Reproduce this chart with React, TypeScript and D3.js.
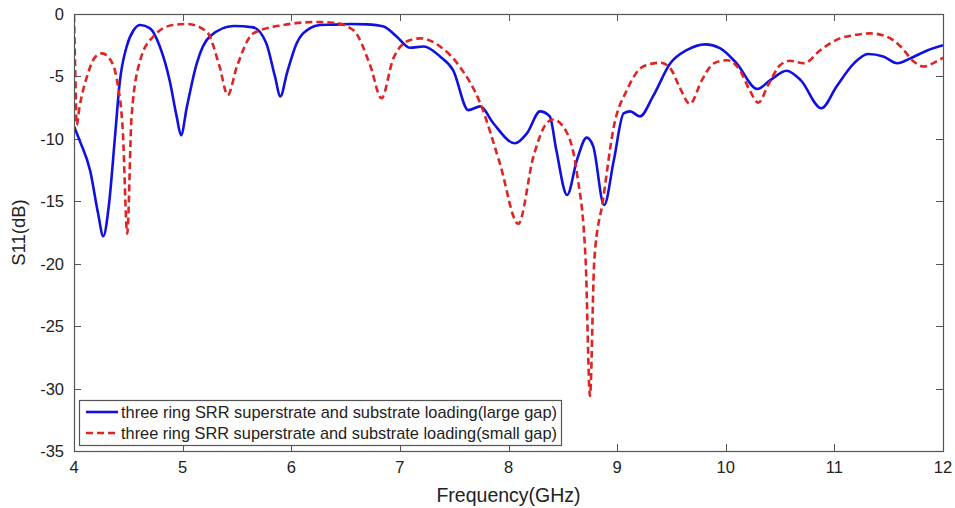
import React, { useEffect, useRef } from "react";
import * as d3 from "d3";

const xTicks = [4, 5, 6, 7, 8, 9, 10, 11, 12];
const yTicks = [0, -5, -10, -15, -20, -25, -30, -35];

const largeGapF = [4.0, 4.055, 4.15, 4.22, 4.27, 4.32, 4.38, 4.42, 4.485, 4.55, 4.61, 4.7, 4.79, 4.88, 4.945, 4.985, 5.04, 5.13, 5.25, 5.47, 5.65, 5.77, 5.85, 5.9, 5.96, 6.05, 6.17, 6.265, 6.385, 6.55, 6.695, 6.85, 6.97, 7.09, 7.22, 7.37, 7.49, 7.63, 7.74, 7.86, 8.06, 8.17, 8.29, 8.38, 8.44, 8.54, 8.63, 8.72, 8.78, 8.88, 8.97, 9.06, 9.12, 9.21, 9.33, 9.49, 9.64, 9.81, 9.95, 10.1, 10.29, 10.41, 10.56, 10.69, 10.88, 11.02, 11.18, 11.31, 11.45, 11.58, 11.7, 11.86, 12.0];
const largeGapS11 = [-9.0, -10.2, -12.6, -15.9, -17.8, -15.4, -9.55, -5.55, -2.6, -1.28, -0.88, -1.15, -2.6, -5.3, -8.2, -9.7, -7.4, -3.95, -1.8, -0.96, -1.07, -2.35, -5.0, -6.6, -4.75, -2.35, -1.15, -0.88, -0.85, -0.8, -0.83, -1.0, -1.8, -2.7, -2.6, -3.4, -4.5, -7.7, -7.4, -8.75, -10.35, -9.55, -7.8, -8.2, -10.9, -14.5, -11.7, -9.9, -10.6, -15.3, -11.7, -7.95, -7.8, -8.2, -6.6, -3.95, -2.9, -2.43, -2.75, -3.95, -6.0, -5.3, -4.55, -5.3, -7.55, -5.8, -3.95, -3.2, -3.4, -3.95, -3.55, -2.9, -2.5];

const smallGapF = [4.0, 4.01, 4.025, 4.05, 4.12, 4.2, 4.26, 4.33, 4.4, 4.45, 4.49, 4.53, 4.61, 4.73, 4.91, 5.04, 5.22, 5.34, 5.415, 5.5, 5.65, 5.93, 6.235, 6.39, 6.57, 6.73, 6.83, 6.94, 7.09, 7.19, 7.37, 7.55, 7.74, 7.92, 8.09, 8.23, 8.35, 8.41, 8.54, 8.63, 8.71, 8.75, 8.79, 8.87, 8.97, 9.09, 9.24, 9.4, 9.49, 9.58, 9.67, 9.78, 9.89, 10.01, 10.13, 10.22, 10.3, 10.39, 10.5, 10.59, 10.72, 10.87, 11.05, 11.18, 11.33, 11.48, 11.61, 11.73, 11.82, 11.94, 12.0];
const smallGapS11 = [-0.1, -4.0, -8.9, -7.5, -5.0, -3.4, -3.15, -3.6, -5.5, -9.5, -17.6, -8.2, -3.7, -1.8, -0.88, -0.8, -1.4, -4.2, -6.5, -4.2, -1.55, -0.88, -0.64, -0.7, -1.28, -4.2, -6.75, -3.55, -2.1, -1.95, -2.6, -4.2, -7.15, -11.95, -16.8, -11.4, -8.75, -8.45, -9.55, -12.75, -19.7, -30.6, -19.7, -14.9, -9.0, -6.1, -4.2, -3.9, -4.35, -5.95, -7.2, -5.3, -3.95, -3.7, -4.5, -6.1, -7.1, -5.7, -4.1, -3.75, -3.95, -2.9, -1.95, -1.7, -1.55, -1.8, -2.6, -3.8, -4.2, -3.8, -3.5];

const legendLabels = [
  "three ring SRR superstrate and substrate loading(large gap)",
  "three ring SRR superstrate and substrate loading(small gap)",
];

const W = 955;
const H = 508;
const M = { left: 74, right: 943, top: 14, bottom: 451 };
const FONT = "'Liberation Sans', Arial, sans-serif";

export default function App() {
  const ref = useRef<SVGSVGElement>(null);

  useEffect(() => {
    const svg = d3.select(ref.current);
    svg.selectAll("*").remove();

    const x = d3.scaleLinear().domain([4, 12]).range([M.left, M.right]);
    const y = d3.scaleLinear().domain([-35, 0]).range([M.bottom, M.top]);

    svg.append("rect").attr("width", W).attr("height", H).attr("fill", "#fff");

    const frameColor = "#555";
    const tickLen = 7;

    const clipId = "plotclip";
    svg.append("clipPath").attr("id", clipId).append("rect")
      .attr("x", M.left).attr("y", M.top - 2)
      .attr("width", M.right - M.left).attr("height", M.bottom - M.top + 2);

    // ticks
    const tg = svg.append("g").attr("stroke", frameColor).attr("stroke-width", 1);
    xTicks.forEach((t) => {
      const px = Math.round(x(t)) + 0.5;
      tg.append("line").attr("x1", px).attr("x2", px).attr("y1", M.bottom).attr("y2", M.bottom - tickLen);
      tg.append("line").attr("x1", px).attr("x2", px).attr("y1", M.top).attr("y2", M.top + tickLen);
    });
    yTicks.forEach((t) => {
      const py = Math.round(y(t)) + 0.5;
      tg.append("line").attr("x1", M.left).attr("x2", M.left + tickLen).attr("y1", py).attr("y2", py);
      tg.append("line").attr("x1", M.right).attr("x2", M.right - tickLen).attr("y1", py).attr("y2", py);
    });

    // tick labels
    svg.append("g").selectAll("text").data(xTicks).join("text")
      .attr("x", (d) => x(d)).attr("y", M.bottom + 22)
      .attr("text-anchor", "middle").attr("font-family", FONT).attr("font-size", 16.5)
      .attr("fill", "#222").text((d) => String(d));
    svg.append("g").selectAll("text").data(yTicks).join("text")
      .attr("x", M.left - 10).attr("y", (d) => y(d) + 6)
      .attr("text-anchor", "end").attr("font-family", FONT).attr("font-size", 16.5)
      .attr("fill", "#222").text((d) => String(d));

    // axis titles
    svg.append("text").attr("x", (M.left + M.right) / 2).attr("y", 502)
      .attr("text-anchor", "middle").attr("font-family", FONT).attr("font-size", 19.5)
      .attr("fill", "#222").text("Frequency(GHz)");
    svg.append("text").attr("transform", `translate(25, ${(M.top + M.bottom) / 2}) rotate(-90)`)
      .attr("text-anchor", "middle").attr("font-family", FONT).attr("font-size", 18.5)
      .attr("fill", "#222").text("S11(dB)");

    const line = d3.line<[number, number]>()
      .x((d) => x(d[0])).y((d) => y(d[1]))
      .curve(d3.curveMonotoneX);

    const largeData: [number, number][] = largeGapF.map((f, i) => [f, largeGapS11[i]]);
    const smallData: [number, number][] = smallGapF.map((f, i) => [f, smallGapS11[i]]);

    const lines = svg.append("g").attr("clip-path", `url(#${clipId})`);
    lines.append("path").attr("d", line(largeData))
      .attr("fill", "none").attr("stroke", "#1010e0").attr("stroke-width", 2.6)
      .attr("stroke-linejoin", "round");
    lines.append("path").attr("d", line(smallData))
      .attr("fill", "none").attr("stroke", "#e02424").attr("stroke-width", 2.6)
      .attr("stroke-dasharray", "7,4");

    // frame
    svg.append("rect").attr("x", M.left + 0.5).attr("y", M.top + 0.5)
      .attr("width", M.right - M.left).attr("height", M.bottom - M.top)
      .attr("fill", "none").attr("stroke", frameColor).attr("stroke-width", 1.2);

    // legend
    const lg = svg.append("g");
    lg.append("rect").attr("x", 79.5).attr("y", 400.5).attr("width", 482).attr("height", 45)
      .attr("fill", "#fff").attr("stroke", frameColor).attr("stroke-width", 1.2);
    const colors = ["#1010e0", "#e02424"];
    const dashes = [null, "7,4"];
    legendLabels.forEach((lab, i) => {
      const ly = 412 + i * 21;
      lg.append("line").attr("x1", 86).attr("x2", 118).attr("y1", ly).attr("y2", ly)
        .attr("stroke", colors[i]).attr("stroke-width", 2.6)
        .attr("stroke-dasharray", dashes[i] as any);
      lg.append("text").attr("x", 121).attr("y", ly + 6)
        .attr("font-family", FONT).attr("font-size", 16.4).attr("fill", "#222")
        .attr("textLength", 436).attr("lengthAdjust", "spacingAndGlyphs")
        .text(lab);
    });
  }, []);

  return (
    <svg ref={ref} width={W} height={H} style={{ position: "absolute", left: 0, top: 0 }} />
  );
}
